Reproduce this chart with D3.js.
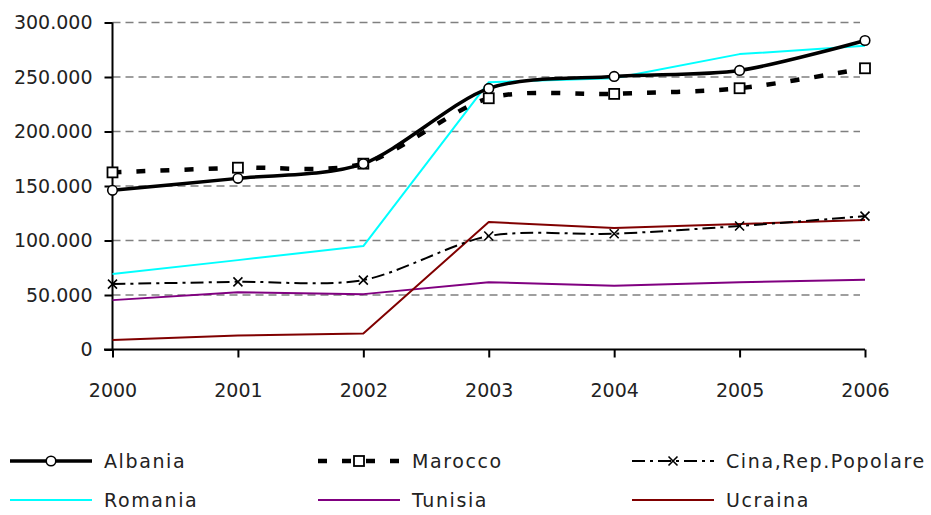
<!DOCTYPE html>
<html><head><meta charset="utf-8">
<script src="https://cdn.jsdelivr.net/npm/d3@7"></script>
<style>
html,body{margin:0;padding:0;background:#fff;}
text{font-family:"DejaVu Sans",sans-serif;fill:#222;}
</style></head>
<body><svg id="c" width="931" height="515"></svg>
<script>
const years = [2000, 2001, 2002, 2003, 2004, 2005, 2006];
const albania = [146000, 157000, 170500, 239500, 250500, 256000, 283500];
const marocco = [162500, 166800, 170500, 230500, 234500, 239700, 258000];
const cina = [60000, 62100, 63700, 104100, 106200, 113300, 122400];
const romania = [69200, 82000, 94900, 245200, 248900, 271000, 278600];
const tunisia = [45300, 52600, 50800, 61800, 58400, 61800, 63900];
const ucraina = [8800, 12900, 14700, 116900, 111400, 115100, 118800];
const yTicks = [0, 50000, 100000, 150000, 200000, 250000, 300000];

const series = [
  {name:"Albania", values:albania, color:"#000", width:3.5, dash:null, smooth:true, marker:"circle"},
  {name:"Marocco", values:marocco, color:"#000", width:4.5, dash:"9,15", smooth:true, marker:"square"},
  {name:"Cina,Rep.Popolare", values:cina, color:"#000", width:2, dash:"13,5,3,5", smooth:true, marker:"x"},
  {name:"Romania", values:romania, color:"#00FFFF", width:2, dash:null, smooth:false, marker:null},
  {name:"Tunisia", values:tunisia, color:"#800080", width:2, dash:null, smooth:false, marker:null},
  {name:"Ucraina", values:ucraina, color:"#800000", width:2, dash:null, smooth:false, marker:null}
];

const svg = d3.select("#c");
const x = d3.scaleLinear().domain([2000, 2006]).range([112.5, 865]);
const y = d3.scaleLinear().domain([0, 300000]).range([349.5, 22.5]);
const loc = d3.formatLocale({decimal:",", thousands:".", grouping:[3], currency:["",""]});
const fmt = loc.format(",");

// gridlines
svg.append("g").selectAll("line").data(yTicks.filter(d=>d>0)).join("line")
  .attr("x1", 112.5).attr("x2", 860).attr("y1", d=>y(d)).attr("y2", d=>y(d))
  .attr("stroke", "#808080").attr("stroke-width", 1.3).attr("stroke-dasharray", "8,5");

// axes
const yAxis = d3.axisLeft(y).tickValues(yTicks).tickFormat(fmt).tickSize(8).tickPadding(12);
const gy = svg.append("g").attr("transform", "translate(112.5,0)").call(yAxis);
const xAxis = d3.axisBottom(x).tickValues(years).tickFormat(d3.format("d")).tickSize(8).tickPadding(26);
const gx = svg.append("g").attr("transform", "translate(0,349.5)").call(xAxis);
[gy, gx].forEach(g => {
  g.select(".domain").attr("stroke", "#000").attr("stroke-width", 2);
  g.selectAll(".tick line").attr("stroke", "#000").attr("stroke-width", 2);
  g.selectAll("text").style("font-size", "19px").style("font-family", '"DejaVu Sans",sans-serif').attr("fill", "#222");
});
gy.select(".domain").attr("d", "M0,22.5V349.5");
gx.select(".domain").attr("d", "M104,0H865");

// lines
function drawMarker(g, type, cx, cy) {
  if (type === "circle") {
    g.append("circle").attr("cx", cx).attr("cy", cy).attr("r", 4.8)
      .attr("fill", "#fff").attr("stroke", "#000").attr("stroke-width", 1.6);
  } else if (type === "square") {
    g.append("rect").attr("x", cx-5).attr("y", cy-5).attr("width", 10).attr("height", 10)
      .attr("fill", "#fff").attr("stroke", "#000").attr("stroke-width", 1.8);
  } else if (type === "x") {
    g.append("path").attr("d", `M${cx-4.5},${cy-4.5}L${cx+4.5},${cy+4.5}M${cx-4.5},${cy+4.5}L${cx+4.5},${cy-4.5}`)
      .attr("stroke", "#000").attr("stroke-width", 1.6).attr("fill", "none");
  }
}

const drawOrder = [4, 5, 3, 2, 1, 0];
drawOrder.forEach(i => {
  const s = series[i];
  const line = d3.line().x((d, j) => x(years[j])).y(d => y(d))
    .curve(s.smooth ? d3.curveCardinal.tension(0.15) : d3.curveLinear);
  const g = svg.append("g");
  g.append("path").attr("d", line(s.values)).attr("fill", "none")
    .attr("stroke", s.color).attr("stroke-width", s.width)
    .attr("stroke-dasharray", s.dash).attr("stroke-linejoin", "round");
  if (s.marker) s.values.forEach((v, j) => drawMarker(g, s.marker, x(years[j]), y(v)));
});

// legend
const legX = [10, 318, 632];
const legY = [461, 500];
series.forEach((s, i) => {
  const lx = legX[i % 3], ly = legY[Math.floor(i / 3)];
  const g = svg.append("g");
  g.append("line").attr("x1", lx).attr("x2", lx + 82).attr("y1", ly).attr("y2", ly)
    .attr("stroke", s.color).attr("stroke-width", s.width)
    .attr("stroke-dasharray", s.dash);
  if (s.marker) drawMarker(g, s.marker, lx + 41, ly);
  g.append("text").attr("x", lx + 94).attr("y", ly).attr("dy", "0.35em")
    .style("font-size", "19px").style("letter-spacing", "1.6px").text(s.name);
});
</script></body></html>
